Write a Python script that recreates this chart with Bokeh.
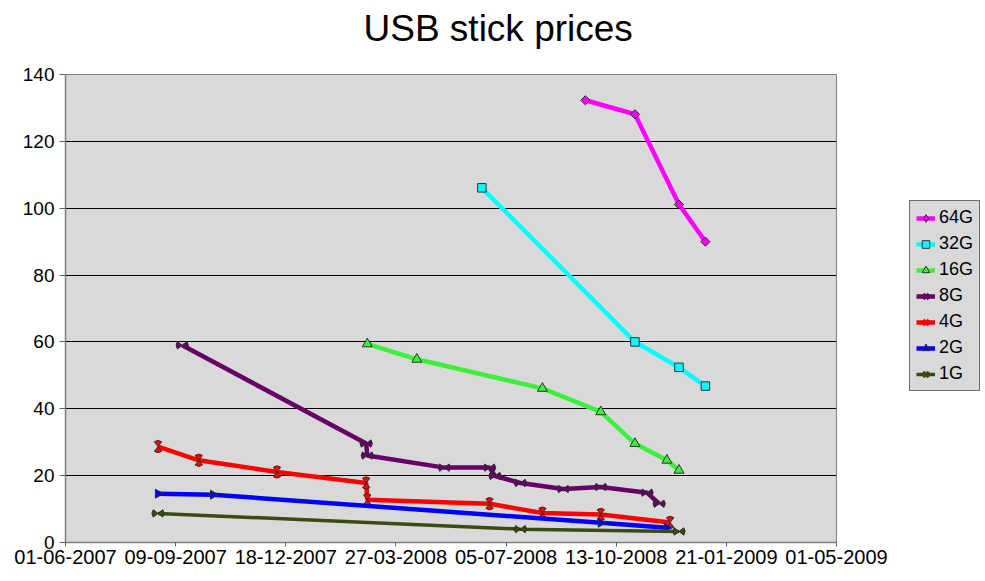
import math
import pandas as pd
from bokeh.plotting import figure
from bokeh.layouts import row
from bokeh.models import (ColumnDataSource, FixedTicker, DatetimeTickFormatter,
                          Legend, LegendItem, Range1d, LinearAxis, CustomJSTickFormatter)
from bokeh.embed import file_html
from bokeh.resources import INLINE

FONT = "Liberation Sans"

title_text = "USB stick prices"
x_tick_labels = ["01-06-2007", "09-09-2007", "18-12-2007", "27-03-2008",
                 "05-07-2008", "13-10-2008", "21-01-2009", "01-05-2009"]
y_ticks = [0, 20, 40, 60, 80, 100, 120, 140]

series_names = ["64G", "32G", "16G", "8G", "4G", "2G", "1G"]

dates_64g = ["2008-09-15", "2008-10-30", "2008-12-09", "2009-01-02"]
price_64g = [132.3, 128.1, 101.1, 90.0]

dates_32g = ["2008-06-13", "2008-10-30", "2008-12-09", "2009-01-02"]
price_32g = [106.1, 60.0, 52.4, 46.8]

dates_16g = ["2008-03-01", "2008-04-15", "2008-08-07", "2008-09-29",
             "2008-10-30", "2008-11-28", "2008-12-09"]
price_16g = [59.4, 54.8, 46.1, 39.1, 29.6, 24.6, 21.6]

dates_8g = ["2007-09-15", "2008-02-29", "2008-03-01", "2008-05-10", "2008-06-20",
            "2008-06-25", "2008-07-18", "2008-08-26", "2008-09-29", "2008-11-10",
            "2008-11-21"]
price_8g = [59.0, 29.6, 26.0, 22.4, 22.4, 19.9, 17.8, 16.0, 16.6, 14.9, 11.6]

dates_4g = ["2007-08-24", "2007-09-30", "2007-12-10", "2008-02-29", "2008-03-01",
            "2008-06-20", "2008-08-07", "2008-09-29", "2008-12-01"]
price_4g = [28.7, 24.6, 21.1, 17.8, 12.8, 11.6, 8.8, 8.4, 6.0]

dates_2g = ["2007-08-24", "2007-10-13", "2008-09-29", "2008-11-28"]
price_2g = [14.6, 14.3, 5.9, 4.4]

dates_1g = ["2007-08-24", "2008-07-18", "2008-12-09"]
price_1g = [8.7, 4.0, 3.3]

series_dates = [dates_64g, dates_32g, dates_16g, dates_8g, dates_4g, dates_2g, dates_1g]
series_prices = [price_64g, price_32g, price_16g, price_8g, price_4g, price_2g, price_1g]
series_colors = ["#ff00ff", "#00ffff", "#3cf03c", "#660066", "#ff0000", "#0000ff", "#3a4a10"]
series_markers = ["diamond", "square", "triangle", "bowtie", "hourglass", "tri_right", "bowtie"]
series_widths = [4.5, 4.5, 4.5, 4.5, 4.5, 4.5, 3.5]

tick_dates = pd.to_datetime(x_tick_labels, format="%d-%m-%Y")
tick_ms = [d.value // 10**6 for d in tick_dates]

p = figure(width=895, height=581, x_axis_type="datetime",
           output_backend="svg", toolbar_location=None,
           x_range=Range1d(tick_dates[0], tick_dates[-1]),
           y_range=Range1d(y_ticks[0], y_ticks[-1]),
           min_border_left=65, min_border_right=59,
           min_border_top=74, min_border_bottom=39)

p.background_fill_color = "#d9d9d9"
p.border_fill_color = "white"
p.outline_line_color = "#808080"
p.outline_line_width = 1

p.title.text = title_text
p.title.text_font = FONT
p.title.text_font_size = "37px"
p.title.text_font_style = "normal"
p.title.text_color = "black"
p.title.align = "left"
p.title.offset = 298

xax = p.below[0]
yax = p.left[0]

fmt = "%d-%m-%Y"
xax.ticker = FixedTicker(ticks=tick_ms)
xax.formatter = DatetimeTickFormatter(
    milliseconds=fmt, seconds=fmt, minsec=fmt, minutes=fmt, hourmin=fmt,
    hours=fmt, days=fmt, months=fmt, years=fmt)
yax.ticker = FixedTicker(ticks=y_ticks)

# invisible spacer axis between the frame and the title
spacer = LinearAxis(ticker=FixedTicker(ticks=tick_ms[:1]),
                    formatter=CustomJSTickFormatter(code="return ''"),
                    axis_line_color=None, major_tick_out=21, major_tick_in=0,
                    minor_tick_out=0, minor_tick_in=0, major_label_standoff=0,
                    major_label_text_font_size="1px",
                    major_tick_line_color=None, minor_tick_line_color=None)
p.add_layout(spacer, "above")

p.xgrid.visible = False
p.ygrid.grid_line_color = "black"
p.ygrid.grid_line_width = 1

for ax in (xax, yax):
    ax.axis_line_color = "#808080"
    ax.axis_line_width = 1.5
    ax.major_tick_line_color = "#606060"
    ax.major_tick_in = 0
    ax.minor_tick_line_color = None
    ax.major_label_text_font = FONT
    ax.major_label_text_color = "black"
xax.major_tick_out = 4
yax.major_tick_out = 6
xax.major_label_text_font_size = "20px"
yax.major_label_text_font_size = "19px"
xax.major_label_standoff = 3
yax.major_label_standoff = 5

EDGE = "#303030"
for dts, vals, col, mk, lw in zip(series_dates, series_prices,
                                  series_colors, series_markers, series_widths):
    src = ColumnDataSource(dict(x=pd.to_datetime(dts), y=vals))
    p.line("x", "y", source=src, line_color=col, line_width=lw)
    if mk in ("diamond", "square", "triangle", "tri_right"):
        marker = {"diamond": "square", "square": "square",
                  "triangle": "triangle", "tri_right": "triangle"}[mk]
        size = {"diamond": 6.5, "square": 8.5, "triangle": 10, "tri_right": 9}[mk]
        angle = {"diamond": math.pi / 4, "square": 0.0,
                 "triangle": 0.0, "tri_right": -math.pi / 2}[mk]
        p.scatter("x", "y", source=src, marker=marker, size=size, angle=angle,
                  fill_color=col, line_color=EDGE, line_width=1)
    else:
        half = 0.66
        centers = [0.0, math.pi] if mk == "bowtie" else [math.pi / 2, 3 * math.pi / 2]
        for c in centers:
            p.wedge("x", "y", source=src, radius=6, radius_units="screen",
                    start_angle=c - half, end_angle=c + half,
                    fill_color=col, line_color=EDGE, line_width=1)

# legend panel (separate small figure so the legend is not clipped)
q = figure(width=90, height=581, output_backend="svg", toolbar_location=None,
           x_range=Range1d(0, 1), y_range=Range1d(0, 1),
           x_axis_location=None, y_axis_location=None, min_border=0)
q.grid.visible = False
q.outline_line_color = None
q.background_fill_color = "white"
q.border_fill_color = "white"

legend_marker = {"diamond": ("diamond", 11), "square": ("square", 9),
                 "triangle": ("triangle", 10), "tri_right": ("triangle", 9),
                 "bowtie": ("x", 9), "hourglass": ("x", 9)}
items = []
nan = float("nan")
for name, col, mk, lw in zip(series_names, series_colors, series_markers, series_widths):
    ln = q.line(x=[nan], y=[nan], line_color=col, line_width=lw)
    m, s = legend_marker[mk]
    if mk in ("bowtie", "hourglass"):
        sc = q.scatter(x=[nan], y=[nan], marker=m, size=s, line_color=col, line_width=3)
    else:
        sc = q.scatter(x=[nan], y=[nan], marker=m, size=s,
                       fill_color=col, line_color=EDGE, line_width=1)
    items.append(LegendItem(label=name, renderers=[ln, sc]))

legend = Legend(items=items, location=(14, 151))
legend.border_line_color = "black"
legend.border_line_width = 1
legend.background_fill_color = "#d9d9d9"
legend.background_fill_alpha = 1
legend.label_text_font = FONT
legend.label_text_font_size = "18px"
legend.label_text_color = "black"
legend.glyph_width = 19
legend.glyph_height = 20
legend.label_height = 20
legend.label_standoff = 4
legend.padding = 6
legend.spacing = 5
legend.margin = 0
q.add_layout(legend)

layout = row(p, q)
open("out.html", "w").write(file_html(layout, INLINE))
